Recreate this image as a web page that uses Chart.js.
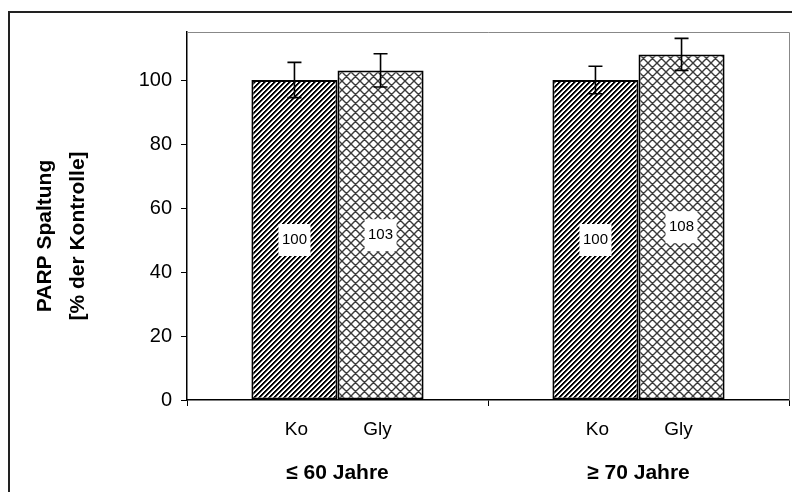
<!DOCTYPE html>
<html>
<head>
<meta charset="utf-8">
<script src="https://cdn.jsdelivr.net/npm/chart.js@4.4.1/dist/chart.umd.min.js"></script>
<style>
  html, body { margin: 0; padding: 0; background: #fff; }
  #wrap { position: relative; width: 792px; height: 492px; overflow: hidden; }
  #frame { position: absolute; left: 8px; top: 11px; width: 800px; height: 500px; border-left: 2px solid #222; border-top: 2px solid #222; }
  #chart { position: absolute; left: 0; top: 0; }
</style>
</head>
<body>
<div id="wrap">
  <div id="frame"></div>
  <canvas id="chart" width="792" height="492"></canvas>
</div>
<script>
// chart data
const categories = ['≤ 60 Jahre', '≥ 70 Jahre'];
const seriesNames = ['Ko', 'Gly'];
const koValues = [100, 100];
const glyValues = [103, 108];
const koErrors = [5.5, 4.3];
const glyErrors = [5.2, 5.0];
const yTicks = [0, 20, 40, 60, 80, 100];
const yMax = 115;
const yTitleLines = ['PARP Spaltung', '[% der Kontrolle]'];

const FONT = 'Arial, "Liberation Sans", sans-serif';
const canvas = document.getElementById('chart');
const ctx = canvas.getContext('2d');

// dense "/" stripes, drawn pixel by pixel so they stay crisp
function makeStripes(size) {
  const c = document.createElement('canvas');
  c.width = size;
  c.height = size;
  const g = c.getContext('2d');
  const shades = ['#000', '#000', '#777', '#fff', '#fff'];
  for (let px = 0; px < size; px++) {
    for (let py = 0; py < size; py++) {
      g.fillStyle = shades[(px + py) % size];
      g.fillRect(px, py, 1, 1);
    }
  }
  return ctx.createPattern(c, 'repeat');
}

// diagonal cross hatch
function makeCross(size, lineWidth, color) {
  const c = document.createElement('canvas');
  c.width = size;
  c.height = size;
  const g = c.getContext('2d');
  g.fillStyle = '#fff';
  g.fillRect(0, 0, size, size);
  g.strokeStyle = color;
  g.lineWidth = lineWidth;
  g.beginPath();
  for (let k = -1; k <= 1; k++) {
    g.moveTo(k * size, size); g.lineTo(k * size + size, 0);
    g.moveTo(k * size, 0); g.lineTo(k * size + size, size);
  }
  g.stroke();
  return ctx.createPattern(c, 'repeat');
}

const koPattern = makeStripes(5);
const glyPattern = makeCross(9, 1.4, '#3a3a3a');

// error bars from dataset.errors
const errorBars = {
  id: 'errorBars',
  afterDatasetsDraw(chart) {
    const { ctx, scales: { y } } = chart;
    ctx.save();
    ctx.strokeStyle = '#000';
    ctx.lineWidth = 1.6;
    chart.data.datasets.forEach((ds, i) => {
      chart.getDatasetMeta(i).data.forEach((bar, j) => {
        const v = ds.data[j], e = ds.errors[j];
        const yHi = y.getPixelForValue(v + e);
        const yLo = y.getPixelForValue(v - e);
        ctx.beginPath();
        ctx.moveTo(bar.x, yHi); ctx.lineTo(bar.x, yLo);
        ctx.moveTo(bar.x - 7, yHi); ctx.lineTo(bar.x + 7, yHi);
        ctx.moveTo(bar.x - 7, yLo); ctx.lineTo(bar.x + 7, yLo);
        ctx.stroke();
      });
    });
    ctx.restore();
  }
};

// value boxes in the middle of each bar, series names under the bars
const barLabels = {
  id: 'barLabels',
  afterDatasetsDraw(chart) {
    const { ctx, scales: { x, y } } = chart;
    ctx.save();
    ctx.textAlign = 'center';
    ctx.textBaseline = 'middle';
    chart.data.datasets.forEach((ds, i) => {
      chart.getDatasetMeta(i).data.forEach((bar, j) => {
        const v = ds.data[j];
        const cy = y.getPixelForValue(v / 2);
        ctx.fillStyle = '#fff';
        ctx.fillRect(bar.x - 16, cy - 16, 32, 32);
        ctx.fillStyle = '#000';
        ctx.font = '15px ' + FONT;
        ctx.fillText(String(v), bar.x, cy);
        ctx.font = '19px ' + FONT;
        ctx.fillText(ds.label, bar.x + (i === 0 ? 2 : -3), x.top + 30);
      });
    });
    ctx.restore();
  }
};

// y title and the grey top/right plot frame
const frameAndTitle = {
  id: 'frameAndTitle',
  afterDraw(chart) {
    const { ctx, chartArea: a } = chart;
    ctx.save();
    ctx.strokeStyle = '#888';
    ctx.lineWidth = 1;
    ctx.beginPath();
    ctx.moveTo(a.left, a.top + 0.5);
    ctx.lineTo(a.right + 0.5, a.top + 0.5);
    ctx.lineTo(a.right + 0.5, a.bottom);
    ctx.stroke();

    ctx.translate(0, 236);
    ctx.rotate(-Math.PI / 2);
    ctx.fillStyle = '#000';
    ctx.font = 'bold 21px ' + FONT;
    ctx.textAlign = 'center';
    ctx.textBaseline = 'middle';
    ctx.fillText(yTitleLines[0], 0, 45);
    ctx.fillText(yTitleLines[1], 0, 78);
    ctx.restore();
  }
};

new Chart(ctx, {
  type: 'bar',
  data: {
    labels: categories,
    datasets: [
      { label: seriesNames[0], data: koValues, errors: koErrors, backgroundColor: koPattern,
        borderColor: '#000', borderWidth: 2, borderSkipped: false },
      { label: seriesNames[1], data: glyValues, errors: glyErrors, backgroundColor: glyPattern,
        borderColor: '#000', borderWidth: 2, borderSkipped: false }
    ]
  },
  options: {
    responsive: false,
    animation: false,
    layout: { padding: { top: 32, right: 3, left: 0, bottom: 0 } },
    datasets: { bar: { categoryPercentage: 0.572, barPercentage: 1 } },
    plugins: { legend: { display: false }, tooltip: { enabled: false } },
    scales: {
      x: {
        grid: { offset: true, drawOnChartArea: false, tickLength: 6, color: '#000' },
        border: { color: '#000', width: 1.5 },
        ticks: { padding: 55, color: '#000', font: { family: FONT, size: 21, weight: 'bold' } },
        afterFit: s => { s.height = 92; }
      },
      y: {
        min: 0,
        max: yMax,
        afterBuildTicks: s => { s.ticks = yTicks.map(v => ({ value: v })); },
        grid: { drawOnChartArea: false, tickLength: 6, color: '#000' },
        border: { color: '#000', width: 1.5 },
        ticks: { padding: 9, color: '#000', font: { family: FONT, size: 20 } },
        afterFit: s => { s.width = 187; }
      }
    }
  },
  plugins: [errorBars, barLabels, frameAndTitle]
});
</script>
</body>
</html>
